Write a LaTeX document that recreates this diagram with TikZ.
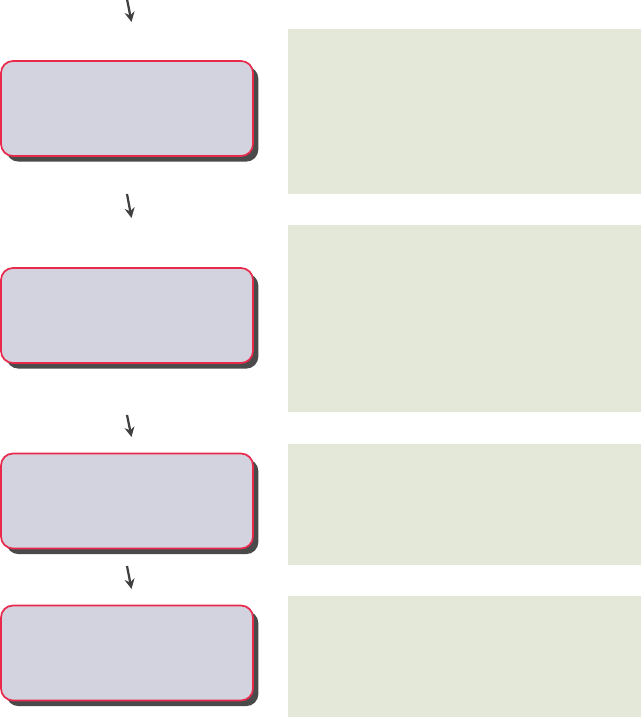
\documentclass[tikz,border=0pt]{standalone}
\usepackage{tikz}
\usetikzlibrary{arrows.meta, shadows}

\definecolor{stepfill}{HTML}{D3D3DF}
\definecolor{stepline}{HTML}{E8294C}
\definecolor{shadowgray}{HTML}{4A4A4A}
\definecolor{notefill}{HTML}{E4E8D9}
\definecolor{arrowgray}{HTML}{404040}

\begin{document}
\begin{tikzpicture}[
    x=0.75pt, y=-0.75pt,
    stepbox/.style={rectangle, draw=stepline, fill=stepfill, line width=1.3pt, rounded corners=9pt, minimum width=189pt, minimum height=71.25pt, inner sep=0pt, outer sep=0pt, drop shadow={shadow xshift=4pt, shadow yshift=-4.2pt, fill=shadowgray, opacity=1}},
    notebox/.style={rectangle, fill=notefill, minimum width=264.75pt, inner sep=0pt, outer sep=0pt},
    arrow/.style={-{Stealth[length=7.5pt, width=7.5pt]}, line width=1.7pt, draw=arrowgray}
]
\useasboundingbox (0,0) rectangle (641,717);

% Nodes
\node[stepbox] (stepa) at (127,108.5) {};
\node[stepbox] (stepb) at (127,315.5) {};
\node[stepbox] (stepc) at (127,501) {};
\node[stepbox] (stepd) at (127,653) {};

\node[notebox, minimum height=123.75pt] (notea) at (464.5,111.5) {};
\node[notebox, minimum height=140.25pt] (noteb) at (464.5,318.5) {};
\node[notebox, minimum height=90.75pt] (notec) at (464.5,504.5) {};
\node[notebox, minimum height=90.75pt] (noted) at (464.5,656.5) {};

% Arrow ends
\coordinate (ina) at (127,-1);   \coordinate (outa) at (131.5,22);
\coordinate (inb) at (127,194);  \coordinate (outb) at (131.5,218);
\coordinate (inc) at (127,415);  \coordinate (outc) at (131.5,437);
\coordinate (ind) at (127,566);  \coordinate (outd) at (131.5,589);

% Arrows
\draw[arrow] (ina) -- (outa);
\draw[arrow] (inb) -- (outb);
\draw[arrow] (inc) -- (outc);
\draw[arrow] (ind) -- (outd);

\end{tikzpicture}
\end{document}
